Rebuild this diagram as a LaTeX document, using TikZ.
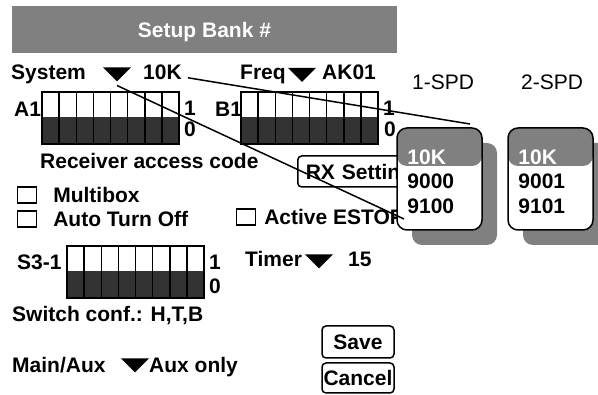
\documentclass[tikz,border=0pt]{standalone}
\usepackage{fontspec}
\setmainfont{Liberation Sans}
\usetikzlibrary{positioning,shadows}
\definecolor{dipdark}{HTML}{333333}
\tikzset{
    lbl/.style = {font=\fontsize{21}{25}\selectfont\bfseries, inner sep=0pt, anchor=base west},
    plain-lbl/.style = {font=\fontsize{21}{25}\selectfont, inner sep=0pt, anchor=base west},
    link/.style = {line width=1.5pt},
    check-box/.style = {draw, line width=1.2pt, minimum width=19pt, minimum height=16pt, inner sep=0pt},
    button/.style = {draw, line width=1.5pt, rounded corners=4pt, minimum width=72pt, inner sep=0pt, font=\fontsize{21}{25}\selectfont\bfseries},
    spd-card/.style = {draw, line width=1.5pt, fill=white, rounded corners=10pt, minimum width=85pt, minimum height=102pt, inner sep=0pt,
        drop shadow={shadow xshift=15pt, shadow yshift=-15pt, fill=gray, opacity=1},
        path picture={\fill[gray] (path picture bounding box.north west) rectangle ([yshift=-38pt]path picture bounding box.north east);}},
    dipswitch/.pic = {
        \fill [white] (0,0) rectangle (137,25);
        \fill [dipdark] (0,25) rectangle (137,52);
        \foreach \k in {1,...,7}
            \draw [line width=1.5pt] ({\k*137/8},0) -- ({\k*137/8},52);
        \draw [line width=1.5pt] (0,0) rectangle (137,52);
    },
    dropdown/.pic = {
        \fill (-14,-7) -- (14,-7) -- (0,7) -- cycle;
        \coordinate (-tip) at (0,7);
    },
}
\begin{document}
\begin{tikzpicture}[x=1pt, y=-1pt]
\useasboundingbox (0,0) rectangle (598,395);
\node [fill=gray, text=white, minimum width=385pt, minimum height=47pt, inner sep=0pt, text depth=0pt, font=\fontsize{21}{25}\selectfont\bfseries] (title) at (204.5,29.5) {Setup Bank \#};

\node [lbl] (system) at (11,80) {System};
\pic (sys) at (117,74.5) {dropdown};
\node [lbl] (sysval) at (143,80) {10K};
\node [lbl] (freq) at (240,80) {Freq};
\pic (frq) at (302,75) {dropdown};
\node [lbl] (freqval) at (322,80) {AK01};
\node [plain-lbl] (spd1-title) at (412,90) {1-SPD};
\node [plain-lbl] (spd2-title) at (521,90) {2-SPD};

\node [lbl] (a1) at (14,117) {A1};
\pic (a1-dip) at (42,92) {dipswitch};
\node [lbl] (a1-on) at (184,116) {1};
\node [lbl] (a1-off) at (184,137) {0};
\node [lbl] (b1) at (215,117) {B1};
\pic (b1-dip) at (241,92) {dipswitch};
\node [lbl] (b1-on) at (383,116) {1};
\node [lbl] (b1-off) at (384,137) {0};
\node [lbl] (rx-code) at (40,169) {Receiver access code};

\node [draw, line width=1.5pt, rounded corners=4pt, minimum height=31pt, text width=115pt, align=left, inner xsep=8pt, inner ysep=0pt, anchor=west, font=\fontsize{21}{25}\selectfont\bfseries] (rx-set) at (297,171.5) {RX Settin};

\node [check-box] (multi-chk) at (27,195) {};
\node [lbl, right=16pt of multi-chk] (multi) {Multibox};
\node [check-box] (auto-chk) at (27,219) {};
\node [lbl, right=16pt of auto-chk] (auto) {Auto Turn Off};
\node [check-box] (estop-chk) at (246,217) {};
\node [lbl, right=8pt of estop-chk] (estop) {Active ESTOP};

\node [lbl] (s31) at (17,270) {S3-1};
\pic (s31-dip) at (67,246) {dipswitch};
\node [lbl] (s31-on) at (209,270) {1};
\node [lbl] (s31-off) at (209,294) {0};
\node [lbl] (timer) at (245,267) {Timer};
\pic (tmr) at (319,261.5) {dropdown};
\node [lbl] (timerval) at (348,267) {15};

\node [lbl] (switch-conf) at (12,322) {Switch conf.: H,T,B};
\node [lbl] (mainaux) at (12,373) {Main/Aux};
\pic (aux) at (135,365.5) {dropdown};
\node [lbl] (mainauxval) at (149,373) {Aux only};

\node [button, minimum height=32pt] (save) at (358,342) {Save};
\node [button, minimum height=30pt] (cancel) at (358,378) {Cancel};

\node [spd-card] (spd1) at (439.5,179) {};
\node [lbl, text=white] (spd1-sys) at ([shift={(11pt,-37pt)}]spd1.north west) {10K};
\node [lbl] (spd1-a) at ([shift={(11pt,-61pt)}]spd1.north west) {9000};
\node [lbl] (spd1-b) at ([shift={(11pt,-86pt)}]spd1.north west) {9100};
\node [spd-card] (spd2) at (550.5,179) {};
\node [lbl, text=white] (spd2-sys) at ([shift={(11pt,-37pt)}]spd2.north west) {10K};
\node [lbl] (spd2-a) at ([shift={(11pt,-61pt)}]spd2.north west) {9001};
\node [lbl] (spd2-b) at ([shift={(11pt,-86pt)}]spd2.north west) {9101};

\coordinate (spd1-top) at (470,124);
\coordinate (spd1-low) at (404,219);
\draw [link] ([shift={(6pt,-5pt)}]sysval.east) -- (spd1-top);
\draw [link] ([yshift=-4pt]sys-tip) -- (spd1-low);
\end{tikzpicture}
\end{document}
